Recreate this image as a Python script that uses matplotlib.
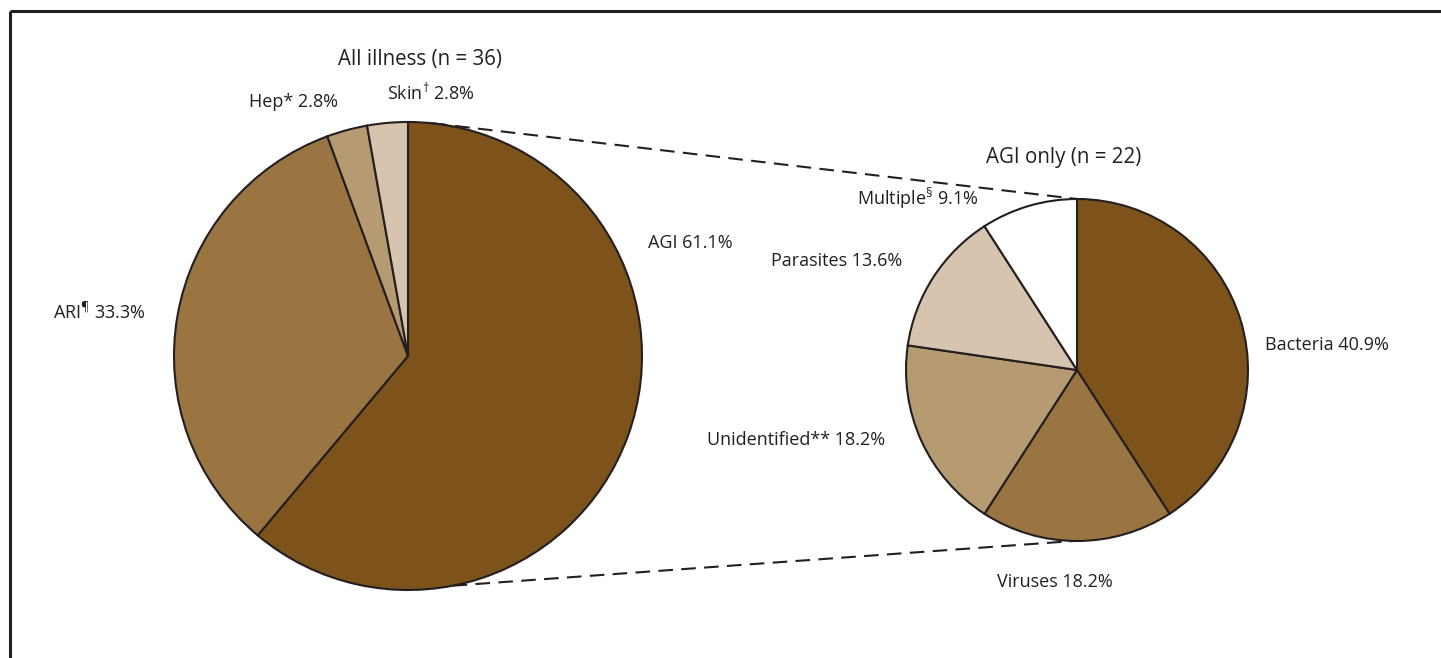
import matplotlib.pyplot as plt
import numpy as np

plt.rcParams['font.family'] = ['Open Sans', 'DejaVu Sans']
plt.rcParams['mathtext.fontset'] = 'custom'
plt.rcParams['mathtext.rm'] = 'Open Sans'

# all illness
all_labels = ["AGI", "ARI", "Hep", "Skin"]
all_values = [61.1, 33.3, 2.8, 2.8]
all_colors = ["#7d531b", "#9a7441", "#b59a72", "#d6c4ae"]

# AGI only
agi_labels = ["Bacteria", "Viruses", "Unidentified", "Parasites", "Multiple"]
agi_values = [40.9, 18.2, 18.2, 13.6, 9.1]
agi_colors = ["#7d531b", "#9a7441", "#b59a72", "#d6c4ae", "#ffffff"]

W, H = 1441, 658
fig = plt.figure(figsize=(W / 100, H / 100), dpi=100)
ax = fig.add_axes([0, 0, 1, 1])

big_c, big_r = (408, -356), 234
small_c, small_r = (1077, -370), 171

wp = dict(edgecolor="#231f20", linewidth=1.5)
ax.pie(all_values, colors=all_colors, startangle=90, counterclock=False,
       center=big_c, radius=big_r, wedgeprops=wp)
ax.pie(agi_values, colors=agi_colors, startangle=90, counterclock=False,
       center=small_c, radius=small_r, wedgeprops=wp)


def on_circle(c, r, deg):
    a = np.radians(deg)
    return c[0] + r * np.cos(a), c[1] + r * np.sin(a)


# connector lines between the two pies
p1 = on_circle(big_c, big_r, 84)
p2 = on_circle(small_c, small_r, 90)
p3 = on_circle(big_c, big_r, -79)
p4 = on_circle(small_c, small_r, -91)
dash = dict(color="#231f20", linewidth=1.5, linestyle=(0, (7, 4)))
ax.plot([p1[0], p2[0]], [p1[1], p2[1]], **dash)
ax.plot([p3[0], p4[0]], [p3[1], p4[1]], **dash)

# frame (only top and left edges are in view)
ax.plot([9.5, W + 10], [-10.5, -10.5], color="#231f20", linewidth=2.2, solid_capstyle="butt")
ax.plot([9.5, 9.5], [-10.5, -H - 10], color="#231f20", linewidth=2.2, solid_capstyle="butt")

fs = 13
ts = 14.8
tc = "#231f20"
ax.text(420, -60, "All illness (n = 36)", fontsize=ts, ha="center", va="center", color=tc)
ax.text(1064, -158, "AGI only (n = 22)", fontsize=ts, ha="center", va="center", color=tc)

ax.text(249, -102, "Hep* 2.8%", fontsize=fs, ha="left", va="center", color=tc)
ax.text(387, -93, r"Skin$^{\dagger}$ 2.8%", fontsize=fs, ha="left", va="center", color=tc)
ax.text(648, -243, "AGI 61.1%", fontsize=fs, ha="left", va="center", color=tc)
ax.text(53, -312, r"ARI$^{¶}$ 33.3%", fontsize=fs, ha="left", va="center", color=tc)

ax.text(857, -198, r"Multiple$^{§}$ 9.1%", fontsize=fs, ha="left", va="center", color=tc)
ax.text(771, -261, "Parasites 13.6%", fontsize=fs, ha="left", va="center", color=tc)
ax.text(1265, -345, "Bacteria 40.9%", fontsize=fs, ha="left", va="center", color=tc)
ax.text(707, -440, "Unidentified** 18.2%", fontsize=fs, ha="left", va="center", color=tc)
ax.text(997, -582, "Viruses 18.2%", fontsize=fs, ha="left", va="center", color=tc)

ax.set_xlim(0, W)
ax.set_ylim(-H, 0)
ax.set_aspect("auto")
ax.axis("off")

fig.savefig("out.png", dpi=100)
